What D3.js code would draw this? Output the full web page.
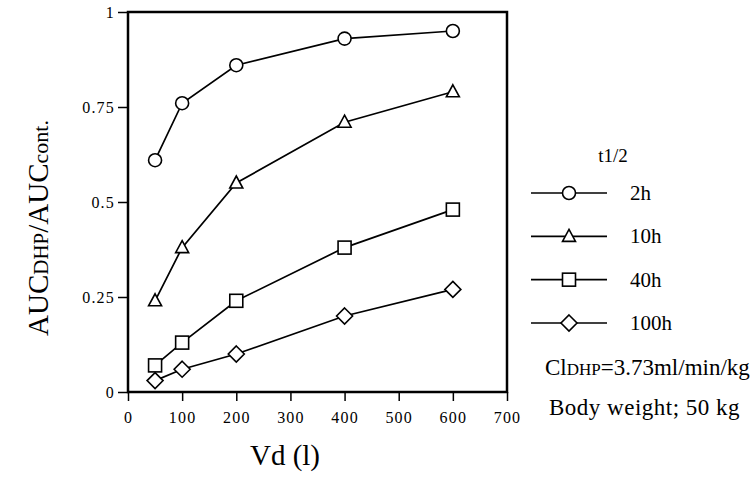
<!DOCTYPE html>
<html>
<head>
<meta charset="utf-8">
<script src="https://cdn.jsdelivr.net/npm/d3@7"></script>
<style>
  body { margin: 0; background: #fff; }
  svg text { font-family: "Liberation Serif", "DejaVu Serif", serif; fill: #000; }
</style>
</head>
<body>
<div id="chart"></div>
<script>
// Data
const vd = [50, 100, 200, 400, 600];
const halfLives = ["2h", "10h", "40h", "100h"];
const ratio2h = [0.61, 0.76, 0.86, 0.93, 0.95];
const ratio10h = [0.24, 0.38, 0.55, 0.71, 0.79];
const ratio40h = [0.07, 0.13, 0.24, 0.38, 0.48];
const ratio100h = [0.03, 0.06, 0.10, 0.20, 0.27];
const xTicks = [0, 100, 200, 300, 400, 500, 600, 700];
const yTicks = [0, 0.25, 0.5, 0.75, 1];

const series = [ratio2h, ratio10h, ratio40h, ratio100h];
const shapes = ["circle", "triangle", "square", "diamond"];

const width = 754, height = 490;
const svg = d3.select("#chart").append("svg")
    .attr("width", width)
    .attr("height", height);

const x = d3.scaleLinear().domain([0, 700]).range([128, 507]);
const y = d3.scaleLinear().domain([0, 1]).range([392, 12]);

// Draw a marker shape centred at 0,0
function marker(g, shape) {
    if (shape === "circle") {
        g.append("circle").attr("r", 6.5);
    } else if (shape === "triangle") {
        g.append("path").attr("d", "M0,-7L6.5,5L-6.5,5Z");
    } else if (shape === "square") {
        g.append("rect").attr("x", -6.5).attr("y", -6.5).attr("width", 13).attr("height", 13);
    } else {
        g.append("path").attr("d", "M0,-8L8,0L0,8L-8,0Z");
    }
    g.selectAll("*").attr("fill", "#fff").attr("stroke", "#000").attr("stroke-width", 1.6);
}

function styleTicks(g) {
    g.attr("font-family", null).attr("font-size", null);
    g.select(".domain").remove();
    g.selectAll("line").attr("stroke-width", 1.5);
    g.selectAll("text")
        .attr("font-size", 16)
        .style("font-family", "'Liberation Serif', serif")
        .style("font-size", "16px")
        .style("letter-spacing", "1.2px");
}

// Axes
svg.append("g")
    .attr("transform", "translate(0,392)")
    .call(d3.axisBottom(x).tickValues(xTicks).tickSize(9).tickPadding(11).tickFormat(d3.format("d")))
    .call(styleTicks);

svg.append("g")
    .attr("transform", "translate(128,0)")
    .call(d3.axisLeft(y).tickValues(yTicks).tickSize(10).tickPadding(3).tickFormat(d => String(d)))
    .call(styleTicks);

// Frame
svg.append("rect")
    .attr("x", x(0)).attr("y", y(1))
    .attr("width", x(700) - x(0)).attr("height", y(0) - y(1))
    .attr("fill", "none").attr("stroke", "#000").attr("stroke-width", 2.5);

// Lines and markers
const line = d3.line().x((d, i) => x(vd[i])).y(d => y(d));
series.forEach((vals, s) => {
    svg.append("path")
        .attr("d", line(vals))
        .attr("fill", "none").attr("stroke", "#000").attr("stroke-width", 1.7);
    vals.forEach((v, i) => {
        const g = svg.append("g").attr("transform", `translate(${x(vd[i])},${y(v)})`);
        marker(g, shapes[s]);
    });
});

// Axis titles
const yl = svg.append("text")
    .attr("transform", "translate(48,228) rotate(-90)")
    .attr("text-anchor", "middle")
    .style("font-size", "29px");
yl.append("tspan").text("AUC");
yl.append("tspan").style("font-size", "21px").text("DHP");
yl.append("tspan").text("/AUC");
yl.append("tspan").style("font-size", "22px").text("cont.");

svg.append("text")
    .attr("x", 285).attr("y", 465)
    .attr("text-anchor", "middle")
    .style("font-size", "29px")
    .text("Vd (l)");

// Legend
svg.append("text").attr("x", 613).attr("y", 162)
    .attr("text-anchor", "middle").style("font-size", "19px").text("t1/2");

const legendY = d3.scalePoint().domain(halfLives).range([193, 323]);
halfLives.forEach((h, s) => {
    const ly = legendY(h);
    svg.append("line").attr("x1", 531).attr("x2", 607).attr("y1", ly).attr("y2", ly)
        .attr("stroke", "#000").attr("stroke-width", 1.6);
    const g = svg.append("g").attr("transform", `translate(569,${ly})`);
    marker(g, shapes[s]);
    svg.append("text").attr("x", 630).attr("y", ly + 7).style("font-size", "21px").text(h);
});

const cl = svg.append("text").attr("x", 545).attr("y", 375).style("font-size", "23px");
cl.append("tspan").text("Cl");
cl.append("tspan").style("font-size", "17px").text("DHP");
cl.append("tspan").text("=3.73ml/min/kg");

svg.append("text").attr("x", 549).attr("y", 415).style("font-size", "23px")
    .style("letter-spacing", "0.5px")
    .text("Body weight; 50 kg");
</script>
</body>
</html>
